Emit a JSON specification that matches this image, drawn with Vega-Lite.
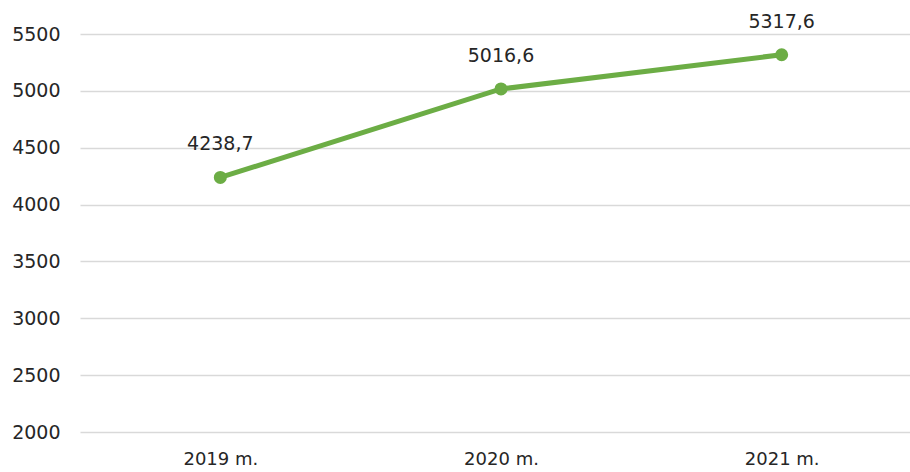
{
  "$schema": "https://vega.github.io/schema/vega-lite/v6.json",
  "autosize": "none",
  "padding": {"left": 80, "top": 34, "right": 0, "bottom": 40},
  "width": 842,
  "height": 398,
  "background": "white",
  "config": {"view": {"stroke": null}},
  "data": {"values": [
    {"year": "2019 m.", "value": 4238.7, "label": "4238,7"},
    {"year": "2020 m.", "value": 5016.6, "label": "5016,6"},
    {"year": "2021 m.", "value": 5317.6, "label": "5317,6"}
  ]},
  "encoding": {
    "x": {"field": "year", "type": "ordinal", "sort": null, "title": null,
      "scale": {"type": "point", "padding": 0.5},
      "axis": {"domain": false, "ticks": false, "labelAngle": 0, "labelFont": "DejaVu Sans", "labelFontSize": 18, "labelColor": "#262626", "labelPadding": 18, "grid": false}},
    "y": {"field": "value", "type": "quantitative", "title": null,
      "scale": {"domain": [2000, 5500], "nice": false, "zero": false},
      "axis": {"values": [2000, 2500, 3000, 3500, 4000, 4500, 5000, 5500], "format": "d", "domain": false, "ticks": false, "labelFont": "DejaVu Sans", "labelFontSize": 19, "labelColor": "#262626", "labelPadding": 20, "gridColor": "#d9d9d9", "gridWidth": 1.5}}
  },
  "layer": [
    {"mark": {"type": "line", "color": "#6cad45", "strokeWidth": 5, "point": {"filled": true, "size": 170, "color": "#6cad45"}}},
    {"mark": {"type": "text", "dy": -33, "font": "DejaVu Sans", "fontSize": 19, "color": "#262626"},
     "encoding": {"text": {"field": "label"}}}
  ]
}
